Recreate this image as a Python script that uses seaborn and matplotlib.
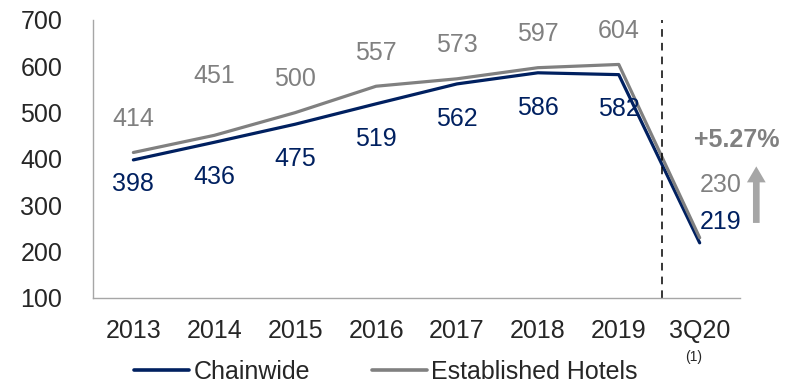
import pandas as pd
import seaborn as sns
import matplotlib.pyplot as plt

# Datos del grafico
periods = ["2013", "2014", "2015", "2016", "2017", "2018", "2019", "3Q20"]
chainwide = [398, 436, 475, 519, 562, 586, 582, 219]
established = [414, 451, 500, 557, 573, 597, 604, 230]
y_ticks = [100, 200, 300, 400, 500, 600, 700]
growth_label = "+5.27%"

navy = "#002060"
gray = "#808080"
light_gray = "#A6A6A6"

df = pd.DataFrame({
    "pos": list(range(len(periods))) * 2,
    "valor": chainwide + established,
    "serie": ["Chainwide"] * len(periods) + ["Established Hotels"] * len(periods),
})

sns.set_style("white")
plt.rcParams["font.family"] = ["Liberation Sans", "DejaVu Sans"]

fig = plt.figure(figsize=(8.01, 3.84), dpi=100)
ax = fig.add_axes([0.116, 0.224, 0.808, 0.724])

sns.lineplot(data=df, x="pos", y="valor", hue="serie",
             palette={"Chainwide": navy, "Established Hotels": gray},
             linewidth=2.3, ax=ax, legend=False)

ax.set_xlim(-0.5, len(periods) - 0.5)
ax.set_ylim(y_ticks[0], y_ticks[-1])
ax.set_yticks(y_ticks)
ax.set_xticks(range(len(periods)))
ax.set_xticklabels(periods)
ax.tick_params(axis="y", length=0, pad=22, labelsize=18)
ax.tick_params(axis="x", length=0, pad=15, labelsize=18)
ax.set_xlabel("")
ax.set_ylabel("")
for side in ["top", "right"]:
    ax.spines[side].set_visible(False)
for side in ["left", "bottom"]:
    ax.spines[side].set_color(light_gray)
    ax.spines[side].set_linewidth(1)

# Etiquetas de valores
above_tweak = {1: 19}
below_tweak = {0: 8}
for i in range(len(periods) - 1):
    ax.annotate(str(established[i]), (i, established[i]), xytext=(0, 24 + above_tweak.get(i, 0)),
                textcoords="offset points", ha="center", va="center", fontsize=18, color=gray)
    ax.annotate(str(chainwide[i]), (i, chainwide[i]), xytext=(0, -25 + below_tweak.get(i, 0)),
                textcoords="offset points", ha="center", va="center", fontsize=18, color=navy)
last = len(periods) - 1
ax.annotate(str(established[last]), (last, established[last]), xytext=(15, 38),
            textcoords="offset points", ha="center", va="center", fontsize=18, color=gray)
ax.annotate(str(chainwide[last]), (last, chainwide[last]), xytext=(15, 15),
            textcoords="offset points", ha="center", va="center", fontsize=18, color=navy)

# Linea divisoria
ax.axvline(last - 0.47, color="black", linestyle=(0, (5, 4)), linewidth=1.1)

# Flecha de crecimiento
ax.annotate("", xy=(last + 0.70, 390), xytext=(last + 0.70, 256),
            arrowprops=dict(arrowstyle="simple,head_width=1.35,head_length=1.15,tail_width=0.48",
                            color=light_gray, lw=0), annotation_clip=False)
ax.text(last + 0.46, 441, growth_label, ha="center", va="center", fontsize=18,
        fontweight="bold", color=gray, clip_on=False)

# Nota al pie
fig.text(694 / 801, 1 - 357 / 384, "(1)", ha="center", va="center", fontsize=10)

# Leyenda
handles = [plt.Line2D([], [], color=navy, linewidth=2.6),
           plt.Line2D([], [], color=gray, linewidth=2.6)]
fig.legend(handles, ["Chainwide", "Established Hotels"], loc="center",
           bbox_to_anchor=(0.482, 0.032), ncol=2, frameon=False, fontsize=18,
           handlelength=2.2, handletextpad=0.16, columnspacing=2.5)

fig.savefig("out.png", dpi=100)
